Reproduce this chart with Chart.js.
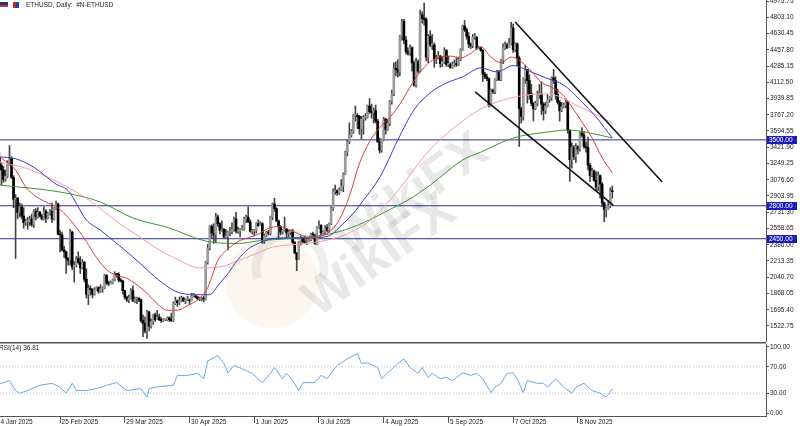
<!DOCTYPE html>
<html>
<head>
<meta charset="utf-8">
<script src="https://cdn.jsdelivr.net/npm/chart.js@4.4.1/dist/chart.umd.min.js"></script>
<style>
  html, body { margin: 0; padding: 0; background: #fff; }
  body { width: 800px; height: 426px; position: relative; overflow: hidden; font-family: "Liberation Sans", Arial, sans-serif; }
  #main { position: absolute; left: 0; top: 0; }
  #rsi { position: absolute; left: 0; top: 342px; }
  .hdr { position: absolute; left: 26px; top: 1px; font-size: 6.5px; color: #222; white-space: pre; }
  .ico1 { position: absolute; left: 0; top: 2px; width: 8px; height: 5px; background: linear-gradient(#24308c 60%, #c83232 60%); }
  .ico2 { position: absolute; left: 13px; top: 2px; width: 6px; height: 6px; background: linear-gradient(90deg, #c02828 50%, #2040a0 50%); }
  .rsilbl { position: absolute; left: -1px; top: 344px; font-size: 6.5px; color: #222; }
</style>
</head>
<body>
<canvas id="main" width="800" height="342"></canvas>
<canvas id="rsi" width="800" height="84"></canvas>
<div class="ico1"></div><div class="ico2"></div>
<div class="hdr">ETHUSD, Daily:  #N-ETHUSD</div>
<div class="rsilbl">RSI(14) 36.81</div>
<script>
// day numbers are counted from 24 Jan 2025; first candle is 26 Jan 2025
const firstDay = 2;
const xMin = 2.3;
const xMax = 381;

const opens = [
  3310,3230,3180,3080,3115,3250,
  3300,3100,2870,2880,2730,2790,2690,2620,2630,2630,2660,2600,2740,2680,2730,2690,2660,2740,2670,2720,2740,2660,2770,2820,2500,2490,2330,2310,
  2240,2220,2520,2150,2170,2240,2200,2140,2200,2020,1860,1920,1910,1860,1910,1930,1890,1920,1930,2060,1980,1970,1980,2010,2080,2070,2010,2000,1900,1830,1800,
  1820,1900,1790,1810,1820,1800,1580,1550,1470,1670,1520,1570,1640,1590,1620,1590,1580,1590,1590,1610,1590,1580,1760,1790,1770,1790,1820,1790,1800,1800,
  1790,1840,1840,1830,1810,1810,1820,1810,2200,2350,2580,2510,2490,2680,2610,2540,2550,2470,2470,2520,2530,2550,2660,2530,2530,2550,2560,2660,2680,2630,2530,
  2530,2540,2610,2590,2610,2420,2480,2520,2510,2680,2820,2770,2640,2580,2520,2540,2550,2510,2520,2520,2410,2300,2230,2410,2450,2420,2410,2420,2440,2500,
  2490,2400,2570,2590,2510,2520,2570,2540,2610,2770,2950,2960,2940,2970,3010,3140,3370,3480,3550,3590,3760,3760,3750,3620,3720,3740,3740,3860,3800,3790,3810,
  3700,3480,3390,3500,3720,3610,3680,3910,3990,4260,4250,4220,4600,4760,4560,4440,4420,4480,4320,4080,4330,4230,4830,4790,4780,4380,4600,4510,4510,4360,4370,
  4390,4310,4330,4450,4300,4300,4270,4300,4310,4300,4350,4460,4710,4670,4600,4520,4500,4590,4590,4470,4480,4450,4200,4170,4150,3870,4030,4010,4140,4220,
  4140,4350,4480,4510,4480,4520,4690,4460,4520,4370,3830,3750,4150,4250,4130,3990,3890,3830,3890,3980,3980,3880,3810,3860,3930,3950,4160,4130,3980,3900,3810,
  3850,3870,3900,3600,3290,3420,3320,3430,3400,3570,3550,3430,3420,3230,3120,3170,3070,3000,3120,3030,2830,2760,2770,2800,2960
];
const highs = [
  3370,3250,3220,3180,3280,3440,
  3320,3120,2920,2890,2830,2820,2780,2660,2680,2690,2710,2760,2770,2780,2740,2710,2790,2760,2730,2760,2830,2780,2850,2830,2540,2520,2370,2320,
  2250,2550,2530,2210,2260,2310,2260,2230,2210,2130,1960,1950,1920,1930,1940,1940,1960,1940,2070,2070,2000,2000,2020,2100,2080,2090,2030,2010,1900,1840,1850,
  1920,1950,1830,1830,1820,1810,1640,1620,1690,1680,1600,1650,1660,1690,1650,1610,1600,1600,1620,1620,1660,1780,1830,1800,1830,1840,1830,1810,1840,1810,
  1870,1870,1850,1840,1830,1830,1840,2210,2390,2590,2600,2610,2720,2700,2620,2640,2560,2550,2530,2570,2620,2680,2730,2570,2560,2590,2680,2700,2790,2650,2550,
  2550,2620,2650,2630,2620,2500,2530,2540,2690,2830,2880,2780,2650,2590,2550,2680,2560,2540,2540,2550,2420,2300,2420,2480,2460,2480,2440,2450,2510,2520,
  2500,2580,2640,2600,2530,2590,2600,2620,2790,2980,3020,2970,2990,3080,3150,3380,3500,3680,3610,3770,3860,3780,3760,3750,3760,3780,3870,3940,3880,3840,3870,
  3720,3520,3510,3740,3730,3720,3920,4030,4320,4330,4350,4610,4780,4780,4600,4480,4510,4490,4340,4370,4350,4880,4860,4955,4800,4620,4660,4620,4530,4400,4440,
  4400,4380,4480,4460,4390,4320,4330,4350,4380,4380,4470,4720,4770,4690,4640,4530,4620,4630,4600,4490,4480,4460,4220,4200,4160,4040,4040,4150,4240,4240,
  4360,4520,4540,4530,4580,4750,4730,4530,4530,4390,3850,4160,4290,4250,4190,4090,3900,3910,4020,4090,4120,3900,3900,3980,3960,4170,4250,4170,4040,3920,3900,
  3890,3930,3910,3610,3470,3440,3460,3440,3580,3630,3590,3480,3530,3250,3200,3180,3160,3160,3130,3050,2840,2780,2850,2990,3010
];
const lows = [
  3220,3020,3050,3060,3100,3230,
  3090,2780,2240,2660,2680,2660,2560,2590,2550,2590,2580,2570,2650,2670,2680,2650,2650,2620,2660,2700,2620,2650,2760,2490,2310,2320,2250,2080,
  2170,2170,2120,1990,2150,2180,2080,2130,1990,1820,1750,1850,1820,1850,1900,1870,1880,1880,1920,1960,1950,1970,1970,2000,2040,1990,1990,1860,1810,1780,1770,
  1810,1780,1770,1760,1780,1560,1410,1450,1390,1470,1500,1540,1570,1590,1580,1560,1570,1580,1580,1570,1570,1570,1750,1730,1750,1780,1780,1760,1790,1750,
  1790,1830,1820,1800,1790,1790,1780,1800,2180,2330,2450,2400,2410,2580,2500,2530,2450,2460,2330,2480,2500,2530,2510,2510,2470,2540,2540,2620,2620,2520,2500,
  2480,2510,2580,2590,2400,2400,2470,2490,2490,2650,2740,2630,2440,2490,2500,2530,2460,2470,2490,2400,2290,2110,2230,2380,2400,2400,2390,2420,2430,2460,
  2390,2390,2560,2490,2500,2500,2520,2520,2600,2750,2920,2910,2920,2960,2950,3130,3330,3460,3530,3570,3700,3620,3560,3510,3560,3710,3730,3780,3730,3680,3680,
  3470,3360,3370,3490,3560,3600,3650,3880,3970,4180,4170,4180,4560,4520,4410,4400,4400,4230,4070,4060,4210,4220,4740,4720,4340,4320,4490,4460,4270,4310,4360,
  4270,4280,4310,4280,4280,4260,4260,4280,4280,4290,4340,4450,4650,4570,4480,4470,4480,4570,4460,4470,4440,4120,4150,4130,3850,3860,3990,3990,4130,4130,
  4130,4310,4460,4470,4480,4510,4430,4440,4290,3430,3680,3710,4100,3890,3930,3860,3700,3820,3860,3940,3770,3710,3780,3850,3900,3920,4100,3930,3880,3700,3800,
  3840,3840,3570,3060,3200,3290,3260,3350,3380,3530,3410,3370,3180,3060,3110,3060,2960,2960,2880,2790,2630,2680,2760,2780,2880
];
const closes = [
  3230,3180,3080,3115,3250,3300,
  3100,2870,2880,2730,2790,2690,2620,2630,2630,2660,2600,2740,2680,2730,2690,2660,2740,2670,2720,2740,2660,2770,2820,2500,2490,2330,2310,2240,
  2220,2520,2150,2170,2240,2200,2140,2200,2020,1860,1920,1910,1860,1910,1930,1890,1920,1930,2060,1980,1970,1980,2010,2080,2070,2010,2000,1900,1830,1800,1820,
  1900,1790,1810,1820,1800,1580,1550,1470,1670,1520,1570,1640,1590,1620,1590,1580,1590,1590,1610,1590,1580,1760,1790,1770,1790,1820,1790,1800,1800,1790,
  1840,1840,1830,1810,1810,1820,1810,2200,2350,2580,2510,2490,2680,2610,2540,2550,2470,2470,2520,2530,2550,2660,2530,2530,2550,2560,2660,2680,2630,2530,2530,
  2540,2610,2590,2610,2420,2480,2520,2510,2680,2820,2770,2640,2580,2520,2540,2550,2510,2520,2520,2410,2300,2230,2410,2450,2420,2410,2420,2440,2500,2490,
  2400,2570,2590,2510,2520,2570,2540,2610,2770,2950,2960,2940,2970,3010,3140,3370,3480,3550,3590,3760,3760,3750,3620,3720,3740,3740,3860,3800,3790,3810,3700,
  3480,3390,3500,3720,3610,3680,3910,3990,4260,4250,4220,4600,4760,4560,4440,4420,4480,4320,4080,4330,4230,4830,4790,4780,4380,4600,4510,4510,4360,4370,4390,
  4310,4330,4450,4300,4300,4270,4300,4310,4300,4350,4460,4710,4670,4600,4520,4500,4590,4590,4470,4480,4450,4200,4170,4150,3870,4030,4010,4140,4220,4140,
  4350,4480,4510,4480,4520,4690,4460,4520,4370,3830,3750,4150,4250,4130,3990,3890,3830,3890,3980,3980,3880,3810,3860,3930,3950,4160,4130,3980,3900,3810,3850,
  3870,3900,3600,3290,3420,3320,3430,3400,3570,3550,3430,3420,3230,3120,3170,3070,3000,3120,3030,2830,2760,2770,2800,2960,2950
];

// moving averages (day number, price)
const redDays = [2,10,15,20,25,30,35,40,45,50,55,60,65,70,75,80,85,90,95,100,105,110,115,120,125,130,135,140,145,150,155,160,165,170,175,180,185,190,195,200,205,210,215,220,225,230,235,240,245,250,255,260,265,270,275,280,285,290,295,300,305];
const redVals = [3320,3180,3000,2900,2840,2790,2700,2570,2420,2250,2120,2060,2030,1960,1870,1760,1690,1690,1740,1800,1930,2220,2340,2420,2460,2500,2560,2580,2550,2500,2460,2470,2520,2650,2900,3250,3480,3630,3740,3880,4060,4220,4330,4380,4390,4370,4420,4490,4380,4320,4380,4330,4230,4110,4060,3990,3850,3690,3520,3310,3150];
const blueDays = [2,10,19,30,36,45,52,60,68,75,82,91,101,106,110,115,120,125,130,137,145,155,165,170,177,182,190,199,207,215,223,231,240,248,256,264,272,281,289,297,305];
const blueVals = [3320,3300,3210,3030,2960,2650,2540,2400,2256,2120,1990,1875,1855,1855,1950,2080,2230,2340,2400,2450,2460,2460,2480,2570,2720,2860,3100,3500,3820,4000,4105,4170,4264,4222,4290,4230,4160,4083,3924,3743,3520];
const pinkDays = [2,15,32,45,52,62,70,78,90,101,111,121,131,137,154,170,185,199,215,231,241,258,273,289,305];
const pinkVals = [3265,3200,3040,2880,2770,2600,2490,2370,2230,2140,2150,2224,2310,2360,2400,2470,2640,2960,3400,3700,3840,3960,3990,3850,3680];
const greenDays = [2,32,52,68,86,102,111,120,131,150,165,175,185,195,204,215,231,240,256,273,283,294,305];
const greenVals = [3020,2946,2840,2670,2564,2436,2404,2400,2430,2460,2500,2560,2650,2760,2860,3020,3286,3370,3520,3584,3605,3573,3520];

// horizontal levels and trend channel
const levels = [3500, 2800, 2450];
const trendUpper = [[257, 4752], [329.7, 3053]];
const trendLower = [[237.2, 4009], [305.5, 2808]];

// RSI(14)
const rsiDays = [2,7,10,12,16,22,28,32,35,38,40,45,50,55,60,65,72,75,76,81,88,90,95,100,103,105,110,113,115,118,122,127,132,136,138,142,144,147,150,152,158,161,164,169,174,179,181,184,189,191,194,199,202,205,209,211,214,216,220,223,226,231,235,238,241,245,247,250,253,256,258,261,263,268,271,273,277,281,285,287,291,295,299,302,305];
const rsiValues = [44,49,34,30,34,42,45,39,30,45,34,34,37,42,46,34,37,24,37,40,42,57,57,60,52,79,87,75,61,72,67,60,46,60,69,52,60,49,34,46,46,57,52,72,82,90,75,76,69,52,61,75,82,69,60,69,54,60,52,54,49,61,57,60,52,31,39,45,60,61,52,31,49,45,45,39,52,39,30,39,45,34,30,24,36.81];
const rsiLevels = [30, 70];
const rsiTicks = [100, 70, 30, 0];

// axis labels
const priceTicks = [4975.75,4803.10,4630.45,4457.80,4285.15,4112.50,3939.85,3767.20,3594.55,3421.90,3249.25,3076.60,2903.95,2731.30,2558.65,2386.00,2213.35,2040.70,1868.05,1695.40,1522.75];
const dateTicks = [0, 32, 64, 96, 128, 160, 192, 224, 256, 288];
const dateLabels = ['24 Jan 2025','25 Feb 2025','29 Mar 2025','30 Apr 2025','1 Jun 2025','3 Jul 2025','4 Aug 2025','5 Sep 2025','7 Oct 2025','8 Nov 2025'];

const FONT = { family: '"Liberation Sans", Arial, sans-serif', size: 6.5 };
const TEXT = '#222';

const pts = (days, vals) => days.map((d, i) => ({ x: d, y: vals[i] }));
const days = closes.map((c, i) => firstDay + i);

function maLine(days, vals, color) {
  return {
    type: 'line', data: pts(days, vals), borderColor: color, borderWidth: 1,
    pointRadius: 0, cubicInterpolationMode: 'monotone', order: 1
  };
}

function levelLine(v) {
  return {
    type: 'line', data: [{ x: xMin, y: v }, { x: xMax, y: v }],
    borderColor: '#303088', borderWidth: 1, pointRadius: 0, order: 6
  };
}

function trendLine(p) {
  return {
    type: 'line', data: p.map(a => ({ x: a[0], y: a[1] })),
    borderColor: '#111', borderWidth: 1.6, pointRadius: 0, order: 0
  };
}

const mainDecor = {
  id: 'mainDecor',
  beforeDatasetsDraw(chart) {
    const ctx = chart.ctx;
    ctx.save();
    // faint logo behind the watermark text
    ctx.fillStyle = 'rgba(246,232,206,0.35)';
    ctx.beginPath();
    ctx.arc(272, 282, 46, 0, Math.PI * 2);
    ctx.fill();
    ctx.strokeStyle = 'rgba(170,170,170,0.2)';
    ctx.lineWidth = 9;
    ctx.beginPath();
    ctx.arc(290, 268, 34, Math.PI * 0.9, Math.PI * 2.1);
    ctx.stroke();

    ctx.font = 'bold 52px "Liberation Sans", Arial, sans-serif';
    ctx.fillStyle = 'rgba(150,150,150,0.22)';
    ctx.textAlign = 'center';
    ctx.textBaseline = 'middle';
    [[412, 196], [380, 256]].forEach(p => {
      ctx.save();
      ctx.translate(p[0], p[1]);
      ctx.rotate(-0.62);
      ctx.fillText('WikiFX', 0, 0);
      ctx.restore();
    });
    ctx.restore();
  },
  afterDraw(chart) {
    const ctx = chart.ctx;
    const y = chart.scales.y;
    ctx.save();
    ctx.font = '6.5px "Liberation Sans", Arial, sans-serif';
    ctx.textBaseline = 'middle';
    levels.forEach(v => {
      const py = Math.round(y.getPixelForValue(v));
      ctx.fillStyle = '#1c1cb8';
      ctx.fillRect(y.left + 1, py - 4, 30, 8);
      ctx.fillStyle = '#fff';
      ctx.fillText(v.toFixed(2), y.left + 3, py);
    });
    ctx.restore();
  }
};

new Chart(document.getElementById('main'), {
  type: 'bar',
  data: {
    datasets: [
      trendLine(trendUpper),
      trendLine(trendLower),
      maLine(redDays, redVals, '#e03a3a'),
      maLine(blueDays, blueVals, '#3c3cc4'),
      maLine(pinkDays, pinkVals, '#f2a0a0'),
      maLine(greenDays, greenVals, '#3a963a'),
      {
        type: 'bar', data: days.map((d, i) => ({ x: d, y: [opens[i], closes[i]] })),
        backgroundColor: ctx => closes[ctx.dataIndex] >= opens[ctx.dataIndex] ? '#9a9a9a' : '#000',
        barThickness: 2, minBarLength: 1, grouped: false, order: 2
      },
      {
        type: 'bar', data: days.map((d, i) => ({ x: d, y: [lows[i], highs[i]] })),
        backgroundColor: '#444', barThickness: 1, grouped: false, order: 3
      },
      ...levels.map(levelLine)
    ]
  },
  options: {
    responsive: false,
    animation: false,
    layout: { padding: 0 },
    plugins: { legend: { display: false }, tooltip: { enabled: false } },
    scales: {
      x: { type: 'linear', min: xMin, max: xMax, display: false, offset: false },
      y: {
        position: 'right', min: 1352.65, max: 4986.4,
        afterBuildTicks: s => { s.ticks = priceTicks.map(v => ({ value: v })); },
        afterFit: s => { s.width = 34; s.paddingTop = 0; s.paddingBottom = 0; },
        ticks: { callback: v => Number(v).toFixed(2), font: FONT, color: TEXT, padding: 1, autoSkip: false },
        grid: { drawOnChartArea: false, drawTicks: true, tickLength: 3, color: '#555' },
        border: { display: true, color: '#555' }
      }
    }
  },
  plugins: [mainDecor]
});

const rsiFrame = {
  id: 'rsiFrame',
  afterDraw(chart) {
    const ctx = chart.ctx;
    ctx.save();
    ctx.fillStyle = '#555';
    ctx.fillRect(0, 0, chart.chartArea.right, 1.5);
    ctx.restore();
  }
};

new Chart(document.getElementById('rsi'), {
  type: 'line',
  data: {
    datasets: [
      {
        data: pts(rsiDays, rsiValues), borderColor: '#6aa8e4', borderWidth: 1,
        pointRadius: 0, tension: 0, order: 0
      },
      ...rsiLevels.map(v => ({
        data: [{ x: xMin, y: v }, { x: xMax, y: v }], borderColor: '#c4c4c4',
        borderWidth: 1, borderDash: [1, 2], pointRadius: 0, order: 1
      }))
    ]
  },
  options: {
    responsive: false,
    animation: false,
    layout: { padding: { top: 2 } },
    plugins: { legend: { display: false }, tooltip: { enabled: false } },
    scales: {
      x: {
        type: 'linear', min: xMin, max: xMax, offset: false,
        afterBuildTicks: s => { s.ticks = dateTicks.map(v => ({ value: v })); },
        afterFit: s => { s.height = 10; s.paddingLeft = 0; s.paddingRight = 0; },
        ticks: {
          callback: (v, i) => dateLabels[i], align: 'start', labelOffset: 1.5, padding: -5,
          font: FONT, color: TEXT, autoSkip: false, maxRotation: 0
        },
        grid: { drawOnChartArea: false, drawTicks: true, tickLength: 7, color: '#555' },
        border: { display: true, color: '#555' }
      },
      y: {
        position: 'right', min: -4.5, max: 104.5,
        afterBuildTicks: s => { s.ticks = rsiTicks.map(v => ({ value: v })); },
        afterFit: s => { s.width = 34; s.paddingTop = 0; s.paddingBottom = 0; },
        ticks: { callback: v => Number(v).toFixed(2), font: FONT, color: TEXT, padding: 1, autoSkip: false },
        grid: { drawOnChartArea: false, drawTicks: true, tickLength: 3, color: '#555' },
        border: { display: true, color: '#555' }
      }
    }
  },
  plugins: [rsiFrame]
});
</script>
</body>
</html>
